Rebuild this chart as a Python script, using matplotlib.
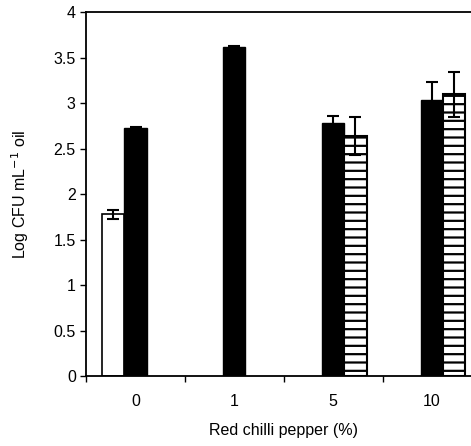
import numpy as np
import matplotlib.pyplot as plt

plt.rcParams['font.family'] = ['Liberation Sans', 'DejaVu Sans']
plt.rcParams['hatch.linewidth'] = 1.6

# Данные
categories = ['0', '1', '5', '10']
open_vals = [1.78, np.nan, np.nan, np.nan]
open_err = [0.05, 0, 0, 0]
black_vals = [2.73, 3.62, 2.78, 3.04]
black_err = [0.01, 0.01, 0.08, 0.19]
hatch_vals = [np.nan, np.nan, 2.64, 3.10]
hatch_err = [0, 0, 0.21, 0.25]

x = np.arange(len(categories))
w = 0.225

fig = plt.figure(figsize=(4.71, 4.46), dpi=100)
ax = fig.add_axes([0.183, 0.157, 0.839, 0.815])

err_kw = dict(ecolor='black', elinewidth=1.5, capsize=4, capthick=1.5)
ax.bar(x - w, open_vals, w, yerr=open_err, color='white', edgecolor='black',
       linewidth=1.2, error_kw=err_kw)
ax.bar(x, black_vals, w, yerr=black_err, color='black', edgecolor='black',
       linewidth=1.0, error_kw=err_kw)
ax.bar(x + w, hatch_vals, w, yerr=hatch_err, color='white', edgecolor='black',
       hatch='--', linewidth=1.5, error_kw=err_kw)

ax.set_xlim(-0.5, 3.5)
ax.set_ylim(0, 4)
ax.set_yticks(np.arange(0, 4.01, 0.5))
ax.set_yticklabels(['0', '0.5', '1', '1.5', '2', '2.5', '3', '3.5', '4'])
ax.set_xticks(x)
ax.set_xticklabels(categories)
ax.set_xticks(np.arange(-0.5, 3.6, 1), minor=True)
ax.tick_params(axis='x', which='major', length=0, pad=13, labelsize=11.5)
ax.tick_params(axis='x', which='minor', length=4, width=1, direction='out')
ax.tick_params(axis='y', length=4, width=1, direction='out', labelsize=11.5)

for s in ax.spines.values():
    s.set_linewidth(1.3)

ax.set_xlabel('Red chilli pepper (%)', fontsize=11.5, labelpad=10)
ax.set_ylabel('Log CFU mL$^{-1}$ oil', fontsize=11.5, labelpad=16)

fig.savefig('out.png', dpi=100)
